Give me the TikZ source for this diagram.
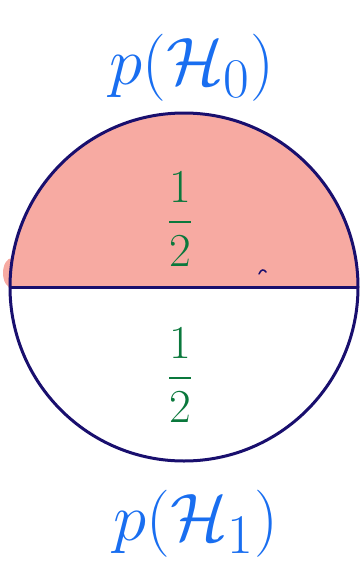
\documentclass[tikz,border=0pt]{standalone}
\usepackage{amsmath,amssymb}
\usetikzlibrary{positioning}
\definecolor{hpblue}{RGB}{25,110,240}
\definecolor{hpgreen}{RGB}{10,120,60}
\definecolor{hpsalmon}{RGB}{247,170,162}
\definecolor{hpnavy}{RGB}{25,15,110}
\tikzset{
  rim/.style={draw=hpnavy,line width=3pt},
  hyplabel/.style={text=hpblue,font=\Huge,scale=2.7,inner sep=0pt},
  halflabel/.style={text=hpgreen,font=\Huge,scale=1.9,inner sep=0pt},
}

\begin{document}
\begin{tikzpicture}[x=1pt,y=-1pt]
  \useasboundingbox (0,0) rectangle (360,576);
  \coordinate (c) at (184,287);
  \coordinate (w) at (10,287);
  \coordinate (e) at (358,287);
  \begin{scope}
    \clip (c) circle[radius=174pt];
    \fill[hpsalmon] (0,100) rectangle (360,289);
  \end{scope}
  \fill[hpsalmon] (12,273) ellipse[x radius=9pt, y radius=15pt];
  \draw[rim] (c) circle[radius=174pt];
  \draw[rim] (w) -- (e);
  \draw[hpnavy,line width=1.5pt,line cap=round] (259,274) .. controls (261,269) and (264,269) .. (266,272);
  \node[hyplabel] (h0) at (192,68) {$p(\mathcal{H}_0)$};
  \node[hyplabel] (h1) at (196,524) {$p(\mathcal{H}_1)$};
  \node[halflabel] (top) at (180,219) {$\displaystyle\frac{1}{2}$};
  \node[halflabel] (bot) at (180,375) {$\displaystyle\frac{1}{2}$};
\end{tikzpicture}
\end{document}
